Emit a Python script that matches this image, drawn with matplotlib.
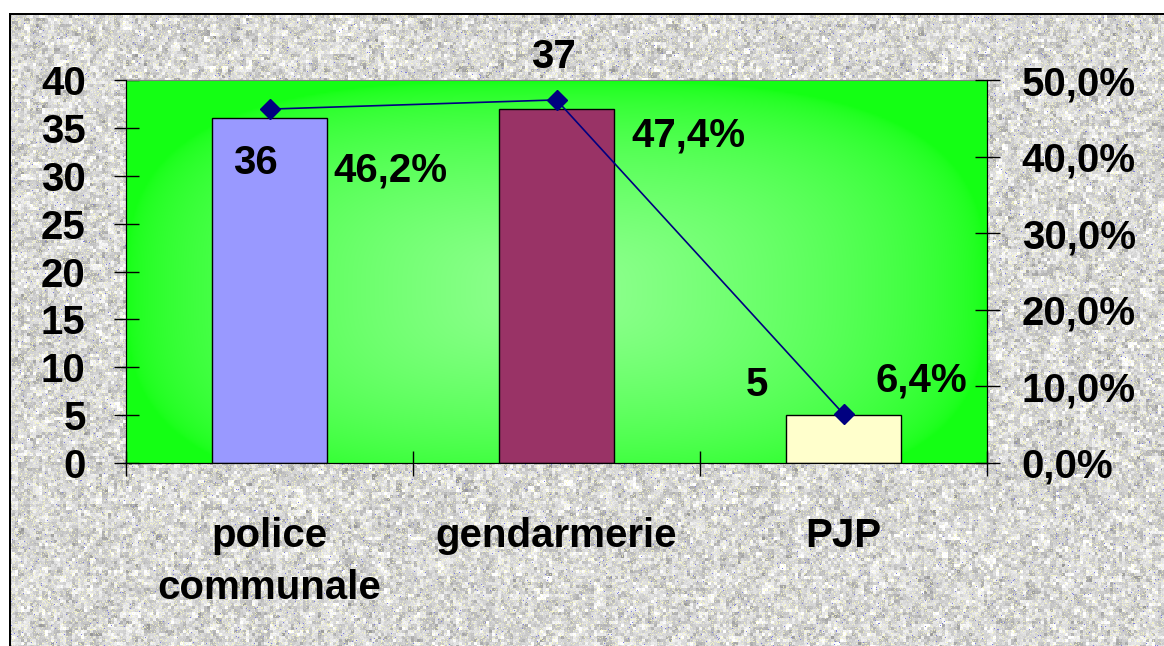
import numpy as np
import matplotlib
matplotlib.use("Agg")
import matplotlib.pyplot as plt
from matplotlib.ticker import FixedLocator, FuncFormatter

plt.rcParams["font.family"] = ["Liberation Sans", "DejaVu Sans"]
plt.rcParams["font.weight"] = "bold"

# data
categories = ["police\ncommunale", "gendarmerie", "PJP"]
counts = [36, 37, 5]
shares = [46.2, 47.4, 6.4]
bar_colors = ["#9999FF", "#993366", "#FFFFCC"]

# where each value label sits (data coords of the left axis)
count_label_pos = [(-0.05, 31.3), (0.99, 42.4), (1.70, 8.1)]
share_label_pos = [(0.42, 30.5), (1.46, 34.2), (2.27, 8.6)]

W, H = 1164, 646
fig = plt.figure(figsize=(W / 100, H / 100), dpi=100)


def blocks(rng, size, sd):
    """Blocky noise layer made of size x size pixel cells."""
    cells = rng.normal(0, sd, size=(H // size + 1, W // size + 1))
    return np.repeat(np.repeat(cells, size, axis=0), size, axis=1)[:H, :W]


# grey granite backdrop
rng = np.random.default_rng(11)
grain = 214 + blocks(rng, 6, 12) + blocks(rng, 3, 16) + rng.normal(0, 5, size=(H, W))
grain = np.clip(grain, 150, 255) / 255.0
bg = np.dstack([grain, grain, grain])
speck = rng.random((H, W))
yellow = speck < 0.09
bg[yellow] = bg[yellow] * 0.3 + np.array([1.0, 1.0, 0.75]) * 0.7
bg[speck > 0.994] = [0.5, 0.5, 0.88]
bg[:13, :] = 1.0
bg[:, :9] = 1.0
bg[13:15, 9:] = 0.0
bg[13:, 9:11] = 0.0

bg_ax = fig.add_axes([0, 0, 1, 1], zorder=-10)
bg_ax.imshow(bg, interpolation="nearest", aspect="auto")
bg_ax.axis("off")

ax = fig.add_axes([126 / W, (H - 463) / H, (987 - 126) / W, (463 - 80) / H])
ax.set_facecolor("none")

# green plot area, lighter towards the middle
u = np.linspace(0, 1, 400)[None, :]
v = np.linspace(0, 1, 200)[:, None]
d = ((np.abs(u - 0.5) / 0.5) ** 3 + (np.abs(v - 0.45) / 0.55) ** 3) ** (1 / 3)
t = np.clip(1 - d, 0, 1) ** 0.6
edge = np.array([0.08, 1.0, 0.08])
light = np.array([0.58, 1.0, 0.58])
grad = edge + (light - edge) * t[..., None]
ax.imshow(grad, extent=(-0.5, 2.5, 0, 40), origin="lower", aspect="auto",
          interpolation="bilinear", zorder=0)

x = np.arange(len(categories))
ax.bar(x, counts, width=0.4, color=bar_colors, edgecolor="black", linewidth=1, zorder=2)

ax.set_xlim(-0.5, 2.5)
ax.set_ylim(0, 40)
ax.set_yticks(range(0, 41, 5))
ax.set_xticks(x)
ax.set_xticklabels(categories)
ax.xaxis.set_minor_locator(FixedLocator([-0.5, 0.5, 1.5, 2.5]))
ax.tick_params(axis="x", which="major", length=0, pad=39, labelsize=29)
ax.tick_params(axis="x", which="minor", direction="inout", length=18, width=1)
ax.tick_params(axis="y", direction="inout", length=18, width=1, pad=20, labelsize=29)
for lab in ax.get_xticklabels():
    lab.set_linespacing(1.45)

for side in ["left", "right", "bottom"]:
    ax.spines[side].set_color("black")
ax.spines["top"].set_color("#808080")

ax2 = ax.twinx()
ax2.set_ylim(0, 50)
ax2.set_yticks(range(0, 51, 10))
ax2.yaxis.set_major_formatter(FuncFormatter(lambda val, _: f"{val:.1f}%".replace(".", ",")))
ax2.tick_params(axis="y", direction="inout", length=18, width=1, pad=16, labelsize=29)
ax2.spines["top"].set_visible(False)
ax2.plot(x, shares, color="#000080", linewidth=1.2, marker="D", markersize=10,
         markerfacecolor="#000080", markeredgecolor="#000080", zorder=3)

for (lx, ly), n in zip(count_label_pos, counts):
    ax.text(lx, ly, str(n), ha="center", va="center", fontsize=29, zorder=4)
for (lx, ly), s in zip(share_label_pos, shares):
    ax.text(lx, ly, f"{s:.1f}%".replace(".", ","), ha="center", va="center",
            fontsize=29, zorder=4)

fig.savefig("out.png", dpi=100)
